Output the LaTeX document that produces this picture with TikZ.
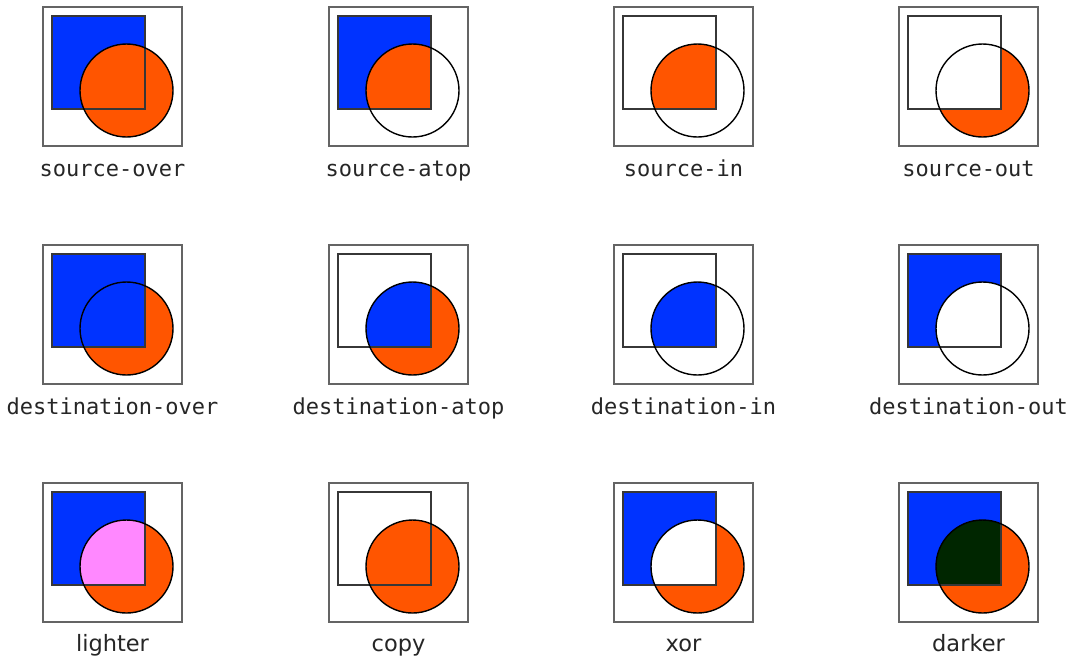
\documentclass[tikz,border=0pt]{standalone}
\usepackage{fontspec}
\newfontfamily\monof{DejaVu Sans Mono}
\newfontfamily\sansf{DejaVu Sans}
\definecolor{blu}{RGB}{0,51,255}
\definecolor{org}{RGB}{255,85,0}
\definecolor{pnk}{RGB}{255,136,255}
\definecolor{drk}{RGB}{0,38,0}
\definecolor{frm}{RGB}{100,100,100}
\definecolor{sqc}{RGB}{55,55,55}
\newcommand\sqp{(9,9) rectangle (102,102)}
\newcommand\cip{(83.5,83.5) circle[radius=46.5pt]}
\tikzset{
  frame/.style={draw=frm, line width=1.2pt},
  sqline/.style={draw=sqc, line width=2.2pt},
  ciline/.style={draw=black, line width=1.4pt},
  lab/.style={anchor=base, inner sep=0pt, text=black!85, font=\monof\fontsize{22}{22}\selectfont},
  labs/.style={anchor=base, inner sep=0pt, text=black!85, font=\sansf\fontsize{22.5}{22}\selectfont},
}
\begin{document}
\begin{tikzpicture}[x=1pt,y=-1pt]
\fill[white] (0,0) rectangle (1070,657);
\useasboundingbox (0,0) rectangle (1070,657);
% ---------- row 1 ----------
\begin{scope}[shift={(43,7)}]
  \draw[frame] (0,0) rectangle (139,139);
  \fill[blu] \sqp; \fill[org] \cip;
  \draw[sqline] \sqp; \draw[ciline] \cip;
  \node[lab] (l1) at (69.5,169) {source-over};
\end{scope}
\begin{scope}[shift={(329,7)}]
  \draw[frame] (0,0) rectangle (139,139);
  \fill[blu] \sqp;
  \begin{scope} \clip \sqp; \fill[org] \cip; \end{scope}
  \draw[sqline] \sqp; \draw[ciline] \cip;
  \node[lab] (l2) at (69.5,169) {source-atop};
\end{scope}
\begin{scope}[shift={(614,7)}]
  \draw[frame] (0,0) rectangle (139,139);
  \begin{scope} \clip \sqp; \fill[org] \cip; \end{scope}
  \draw[sqline] \sqp; \draw[ciline] \cip;
  \node[lab] (l3) at (69.5,169) {source-in};
\end{scope}
\begin{scope}[shift={(899,7)}]
  \draw[frame] (0,0) rectangle (139,139);
  \fill[org] \cip;
  \begin{scope} \clip \sqp; \fill[white] \cip; \end{scope}
  \draw[sqline] \sqp; \draw[ciline] \cip;
  \node[lab] (l4) at (69.5,169) {source-out};
\end{scope}
% ---------- row 2 ----------
\begin{scope}[shift={(43,245)}]
  \draw[frame] (0,0) rectangle (139,139);
  \fill[org] \cip; \fill[blu] \sqp;
  \draw[sqline] \sqp; \draw[ciline] \cip;
  \node[lab] (l5) at (69.5,169) {destination-over};
\end{scope}
\begin{scope}[shift={(329,245)}]
  \draw[frame] (0,0) rectangle (139,139);
  \fill[org] \cip;
  \begin{scope} \clip \sqp; \fill[blu] \cip; \end{scope}
  \draw[sqline] \sqp; \draw[ciline] \cip;
  \node[lab] (l6) at (69.5,169) {destination-atop};
\end{scope}
\begin{scope}[shift={(614,245)}]
  \draw[frame] (0,0) rectangle (139,139);
  \begin{scope} \clip \sqp; \fill[blu] \cip; \end{scope}
  \draw[sqline] \sqp; \draw[ciline] \cip;
  \node[lab] (l7) at (69.5,169) {destination-in};
\end{scope}
\begin{scope}[shift={(899,245)}]
  \draw[frame] (0,0) rectangle (139,139);
  \fill[blu] \sqp; \fill[white] \cip;
  \draw[sqline] \sqp; \draw[ciline] \cip;
  \node[lab] (l8) at (69.5,169) {destination-out};
\end{scope}
% ---------- row 3 ----------
\begin{scope}[shift={(43,483)}]
  \draw[frame] (0,0) rectangle (139,139);
  \fill[blu] \sqp; \fill[org] \cip;
  \begin{scope} \clip \sqp; \fill[pnk] \cip; \end{scope}
  \draw[sqline] \sqp; \draw[ciline] \cip;
  \node[labs] (l9) at (69.5,168) {lighter};
\end{scope}
\begin{scope}[shift={(329,483)}]
  \draw[frame] (0,0) rectangle (139,139);
  \fill[org] \cip;
  \draw[sqline] \sqp; \draw[ciline] \cip;
  \node[labs] (l10) at (69.5,168) {copy};
\end{scope}
\begin{scope}[shift={(614,483)}]
  \draw[frame] (0,0) rectangle (139,139);
  \fill[blu] \sqp; \fill[org] \cip;
  \begin{scope} \clip \sqp; \fill[white] \cip; \end{scope}
  \draw[sqline] \sqp; \draw[ciline] \cip;
  \node[labs] (l11) at (69.5,168) {xor};
\end{scope}
\begin{scope}[shift={(899,483)}]
  \draw[frame] (0,0) rectangle (139,139);
  \fill[blu] \sqp; \fill[org] \cip;
  \begin{scope} \clip \sqp; \fill[drk] \cip; \end{scope}
  \draw[sqline] \sqp; \draw[ciline] \cip;
  \node[labs] (l12) at (69.5,168) {darker};
\end{scope}
\end{tikzpicture}
\end{document}
